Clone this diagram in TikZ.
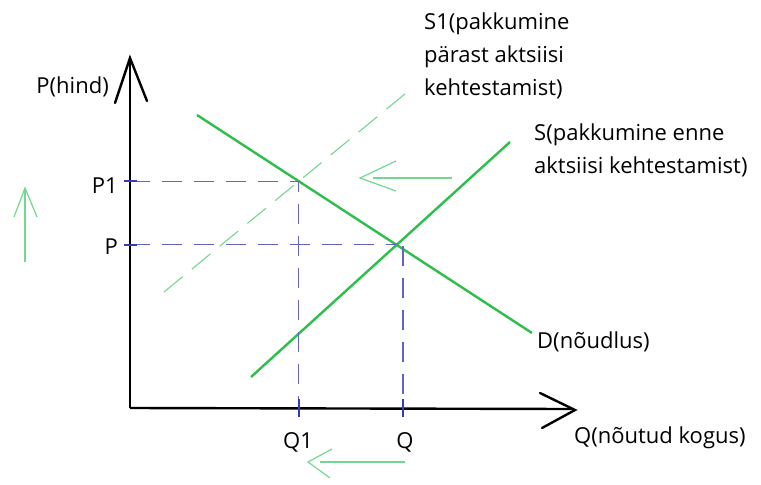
\documentclass[tikz,border=0pt]{standalone}
\usepackage{fontspec}
\setmainfont{Open Sans}
\usepackage{tikz}
\usetikzlibrary{positioning}
\usetikzlibrary{arrows.meta}
\usepackage{xcolor}

\definecolor{curvegreen}{RGB}{45,190,75}
\definecolor{palegreen}{RGB}{115,215,145}
\definecolor{guideblue}{RGB}{100,100,195}
\definecolor{tickblue}{RGB}{55,60,180}

\tikzset{
    axis/.style={line width=2.4pt, black},
    curve/.style={line width=2.4pt, curvegreen},
    shifted/.style={line width=1.1pt, palegreen, dash pattern=on 24pt off 12pt},
    guide/.style={line width=1.1pt, guideblue, dash pattern=on 20pt off 12pt},
    tickmark/.style={line width=2.2pt, tickblue},
    shiftarrow/.style={line width=1.2pt, palegreen},
    lbl/.style={font=\fontsize{22}{33}\selectfont, inner sep=0pt}
}

\begin{document}
\begin{tikzpicture}[x=1pt, y=-1pt]
    \useasboundingbox (0,0) rectangle (761,485);

    % Axes
    \coordinate (O) at (130,408);
    \coordinate (ytip) at (130,58);
    \coordinate (xtip) at (575,410);
    \draw[axis] (O) -- (130,62);
    \draw[axis] (O) -- (571,409);
    \draw[axis, line cap=round] (115,103) -- (ytip) -- (147,101);
    \draw[axis, line cap=round] (540,393) -- (xtip) -- (542,428);
    \node[lbl, anchor=base east] (pname) at (109,93) {P(hind)};
    \node[lbl, anchor=base west] (qname) at (574,443) {Q(nõutud kogus)};

    % Demand and supply curves
    \coordinate (d1) at (197,115);
    \coordinate (d2) at (532,333);
    \coordinate (s1) at (251,377);
    \coordinate (s2) at (510,142);
    \coordinate (t1) at (164,292);
    \coordinate (t2) at (411,89);
    \draw[shifted] (t1) -- (t2);
    \draw[curve] (d1) -- (d2);
    \draw[curve] (s1) -- (s2);

    % Equilibria
    \coordinate (e0) at (intersection of d1--d2 and s1--s2);
    \coordinate (e1) at (intersection of d1--d2 and t1--t2);

    % Guide lines
    \draw[guide] (O |- e1) -- (e1) -- (e1 |- O);
    \draw[guide] (O |- e0) -- (e0);
    \draw[guide] (403,246) -- (403,408);

    % Ticks
    \draw[tickmark] ([xshift=-6pt]O |- e1) -- ([xshift=7pt]O |- e1);
    \draw[tickmark] ([xshift=-6pt]O |- e0) -- ([xshift=7pt]O |- e0);
    \draw[tickmark] ([yshift=-9pt]e1 |- O) -- ([yshift=9pt]e1 |- O);
    \draw[tickmark] (403,399) -- (403,417);

    % Tick labels
    \node[lbl, anchor=base east] (p1lbl) at (118,193) {P1};
    \node[lbl, anchor=base east] (plbl) at (118,254) {P};
    \node[lbl, anchor=base] (q1lbl) at (298,448) {Q1};
    \node[lbl, anchor=base] (qlbl) at (405,448) {Q};

    % Curve labels
    \node[lbl, anchor=north west, align=left] (s1lbl) at (424,13)
        {S1(pakkumine\\pärast aktsiisi\\kehtestamist)};
    \node[lbl, anchor=north west, align=left] (slbl) at (534,124)
        {S(pakkumine enne\\aktsiisi kehtestamist)};
    \node[lbl, anchor=base west] (dlbl) at (537,348) {D(nõudlus)};

    % Shift arrows
    \coordinate (ua) at (25,262);
    \coordinate (ub) at (25,188);
    \draw[shiftarrow] (ua) -- (ub);
    \draw[shiftarrow] (14,217) -- (ub) -- (37,217);
    \coordinate (la) at (452,178);
    \coordinate (lb) at (360,178);
    \draw[shiftarrow] (la) -- (373,178);
    \draw[shiftarrow] (396,161) -- (lb) -- (396,191);
    \coordinate (ba) at (405,462);
    \coordinate (bb) at (308,462);
    \draw[shiftarrow] (ba) -- (320,462);
    \draw[shiftarrow] (332,449) -- (bb) -- (330,478);
\end{tikzpicture}
\end{document}
